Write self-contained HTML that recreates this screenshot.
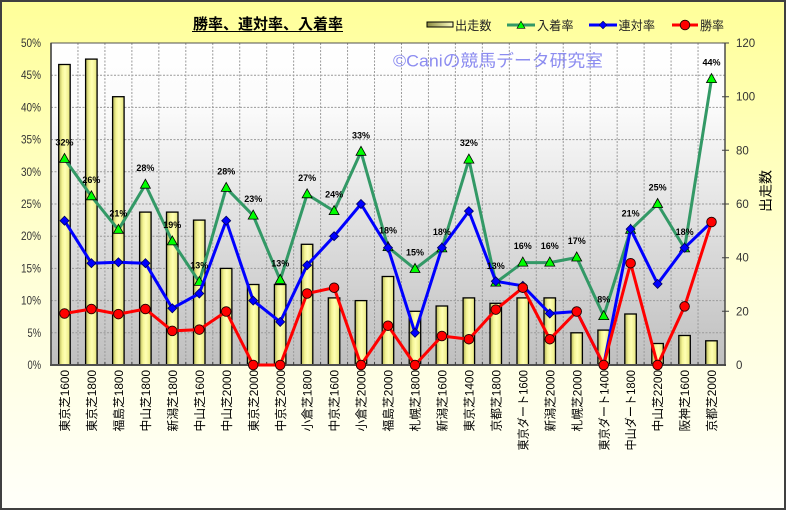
<!DOCTYPE html>
<html><head><meta charset="utf-8"><style>
html,body{margin:0;padding:0;background:#fff;}
svg{display:block;}
text{font-family:"Liberation Sans","Noto Sans CJK JP",sans-serif;}
</style></head><body>
<svg width="786" height="510" viewBox="0 0 786 510" xmlns="http://www.w3.org/2000/svg">
<defs>
<linearGradient id="bg" x1="0" y1="0" x2="0" y2="1">
<stop offset="0" stop-color="#ffff99"/><stop offset="0.55" stop-color="#ffffd8"/><stop offset="1" stop-color="#fffffa"/>
</linearGradient>
<linearGradient id="pbg" x1="0" y1="0" x2="0" y2="1">
<stop offset="0" stop-color="#ffffff"/><stop offset="0.2" stop-color="#fbfbfb"/><stop offset="1" stop-color="#bfbfbf"/>
</linearGradient>
<linearGradient id="bar" x1="0" y1="0" x2="1" y2="0">
<stop offset="0" stop-color="#b0b058"/><stop offset="0.3" stop-color="#f4f494"/><stop offset="0.55" stop-color="#ffffb4"/><stop offset="0.85" stop-color="#f0f090"/><stop offset="1" stop-color="#c8c870"/>
</linearGradient>
<linearGradient id="lbar" x1="0" y1="0" x2="1" y2="0">
<stop offset="0" stop-color="#8a8a40"/><stop offset="1" stop-color="#ffffc0"/>
</linearGradient>
<path id="tri" d="M0,-5.5 L5,3.5 L-5,3.5 Z" fill="#00ff00" stroke="#000" stroke-width="0.8"/>
<path id="dia" d="M0,-4.5 L4.5,0 L0,4.5 L-4.5,0 Z" fill="#0000ff" stroke="#000060" stroke-width="0.8"/>
<circle id="cir" r="4.8" fill="#ff0000" stroke="#200000" stroke-width="0.9"/>
</defs>

<rect x="0" y="0" width="786" height="510" fill="url(#bg)"/>
<rect x="1" y="1" width="784" height="508" fill="none" stroke="#404040" stroke-width="2"/>

<!-- title -->
<text x="268" y="29" font-size="15" font-weight="bold" text-anchor="middle" fill="#000" textLength="150" lengthAdjust="spacingAndGlyphs">勝率、連対率、入着率</text>
<line x1="192" y1="31.5" x2="343" y2="31.5" stroke="#000" stroke-width="1"/>

<!-- legend -->
<rect x="427" y="22" width="26" height="5" fill="url(#lbar)" stroke="#000" stroke-width="1"/>
<text x="455" y="30" font-size="12.5" fill="#222" textLength="36.5" lengthAdjust="spacingAndGlyphs">出走数</text>
<line x1="507" y1="25" x2="535" y2="25" stroke="#339966" stroke-width="3"/>
<use href="#tri" x="521" y="25.5" transform="translate(521 25.5) scale(0.8) translate(-521 -25.5)"/>
<text x="537" y="30" font-size="12.5" fill="#222" textLength="36.5" lengthAdjust="spacingAndGlyphs">入着率</text>
<line x1="589" y1="25" x2="617" y2="25" stroke="#0000ff" stroke-width="3"/>
<use href="#dia" x="603" y="25" transform="translate(603 25) scale(0.85) translate(-603 -25)"/>
<text x="618.5" y="30" font-size="12.5" fill="#222" textLength="36.5" lengthAdjust="spacingAndGlyphs">連対率</text>
<line x1="672" y1="25" x2="698" y2="25" stroke="#ff0000" stroke-width="3"/>
<use href="#cir" x="685" y="25"/>
<text x="700" y="30" font-size="12.5" fill="#222" textLength="24" lengthAdjust="spacingAndGlyphs">勝率</text>

<!-- plot bg -->
<rect x="51" y="43" width="674" height="322" fill="url(#pbg)"/>

<!-- gridlines -->
<g stroke="#9a9a9a" stroke-width="1" stroke-dasharray="2,1.5" fill="none">
<path d="M51,332.8H725M51,300.6H725M51,268.4H725M51,236.2H725M51,204H725M51,171.8H725M51,139.6H725M51,107.4H725M51,75.2H725"/>
<path d="M77.96,43V365M104.92,43V365M131.88,43V365M158.84,43V365M185.8,43V365M212.76,43V365M239.72,43V365M266.68,43V365M293.64,43V365M320.6,43V365M347.56,43V365M374.52,43V365M401.48,43V365M428.44,43V365M455.4,43V365M482.36,43V365M509.32,43V365M536.28,43V365M563.24,43V365M590.2,43V365M617.16,43V365M644.12,43V365M671.08,43V365M698.04,43V365"/>
</g>

<!-- watermark -->
<text x="393" y="66.5" font-size="17" fill="#8c8cf0" textLength="210" lengthAdjust="spacingAndGlyphs">©Caniの競馬データ研究室</text>

<!-- bars -->
<g fill="url(#bar)" stroke="#000" stroke-width="1.3">
<rect x="58.7" y="64.5" width="11.5" height="300.5"/>
<rect x="85.6" y="59.1" width="11.5" height="305.9"/>
<rect x="112.6" y="96.7" width="11.5" height="268.3"/>
<rect x="139.6" y="212.1" width="11.5" height="152.9"/>
<rect x="166.5" y="212.1" width="11.5" height="152.9"/>
<rect x="193.5" y="220.1" width="11.5" height="144.9"/>
<rect x="220.4" y="268.4" width="11.5" height="96.6"/>
<rect x="247.4" y="284.5" width="11.5" height="80.5"/>
<rect x="274.4" y="284.5" width="11.5" height="80.5"/>
<rect x="301.3" y="244.3" width="11.5" height="120.7"/>
<rect x="328.3" y="297.9" width="11.5" height="67.1"/>
<rect x="355.2" y="300.6" width="11.5" height="64.4"/>
<rect x="382.2" y="276.5" width="11.5" height="88.5"/>
<rect x="409.2" y="311.3" width="11.5" height="53.7"/>
<rect x="436.1" y="306.0" width="11.5" height="59.0"/>
<rect x="463.1" y="297.9" width="11.5" height="67.1"/>
<rect x="490.0" y="303.3" width="11.5" height="61.7"/>
<rect x="517.0" y="297.9" width="11.5" height="67.1"/>
<rect x="544.0" y="297.9" width="11.5" height="67.1"/>
<rect x="570.9" y="332.8" width="11.5" height="32.2"/>
<rect x="597.9" y="330.1" width="11.5" height="34.9"/>
<rect x="624.8" y="314.0" width="11.5" height="51.0"/>
<rect x="651.8" y="343.5" width="11.5" height="21.5"/>
<rect x="678.8" y="335.5" width="11.5" height="29.5"/>
<rect x="705.7" y="340.8" width="11.5" height="24.2"/>
</g>

<!-- axes / border -->
<rect x="51" y="43" width="674" height="322" fill="none" stroke="#505050" stroke-width="1"/>
<line x1="51" y1="43" x2="51" y2="366" stroke="#404040" stroke-width="1.6"/>
<line x1="50" y1="365" x2="726" y2="365" stroke="#505050" stroke-width="2"/>
<line x1="725" y1="43" x2="725" y2="366" stroke="#404040" stroke-width="1.4"/>
<g stroke="#404040" stroke-width="1">
<path d="M722,311.3H729M722,257.7H729M722,204H729M722,150.3H729M722,96.7H729M722,43H729"/>
<path d="M77.96,362V365M104.92,362V365M131.88,362V365M158.84,362V365M185.8,362V365M212.76,362V365M239.72,362V365M266.68,362V365M293.64,362V365M320.6,362V365M347.56,362V365M374.52,362V365M401.48,362V365M428.44,362V365M455.4,362V365M482.36,362V365M509.32,362V365M536.28,362V365M563.24,362V365M590.2,362V365M617.16,362V365M644.12,362V365M671.08,362V365M698.04,362V365"/>
</g>

<!-- lines -->
<polyline fill="none" stroke="#339966" stroke-width="3" stroke-linejoin="round" points="64.5,158.9 91.4,196.3 118.4,229.8 145.4,184.7 172.3,241.4 199.3,281.9 226.2,187.9 253.2,215.6 280.2,280.0 307.1,194.3 334.1,211.1 361.0,151.8 388.0,247.1 415.0,269.0 441.9,248.4 468.9,159.6 495.8,282.6 522.8,262.6 549.8,262.6 576.7,257.5 603.7,316.1 630.6,229.8 657.6,204.0 684.6,248.4 711.5,79.1"/>
<g>
<use href="#tri" x="64.5" y="158.9"/><use href="#tri" x="91.4" y="196.3"/><use href="#tri" x="118.4" y="229.8"/><use href="#tri" x="145.4" y="184.7"/><use href="#tri" x="172.3" y="241.4"/><use href="#tri" x="199.3" y="281.9"/><use href="#tri" x="226.2" y="187.9"/><use href="#tri" x="253.2" y="215.6"/><use href="#tri" x="280.2" y="280.0"/><use href="#tri" x="307.1" y="194.3"/><use href="#tri" x="334.1" y="211.1"/><use href="#tri" x="361.0" y="151.8"/><use href="#tri" x="388.0" y="247.1"/><use href="#tri" x="415.0" y="269.0"/><use href="#tri" x="441.9" y="248.4"/><use href="#tri" x="468.9" y="159.6"/><use href="#tri" x="495.8" y="282.6"/><use href="#tri" x="522.8" y="262.6"/><use href="#tri" x="549.8" y="262.6"/><use href="#tri" x="576.7" y="257.5"/><use href="#tri" x="603.7" y="316.1"/><use href="#tri" x="630.6" y="229.8"/><use href="#tri" x="657.6" y="204.0"/><use href="#tri" x="684.6" y="248.4"/><use href="#tri" x="711.5" y="79.1"/>
</g>
<polyline fill="none" stroke="#0000ff" stroke-width="3" stroke-linejoin="round" points="64.5,220.7 91.4,263.2 118.4,262.3 145.4,263.2 172.3,308.3 199.3,293.5 226.2,220.7 253.2,300.6 280.2,321.9 307.1,265.2 334.1,236.2 361.0,204.0 388.0,247.8 415.0,332.8 441.9,247.8 468.9,211.1 495.8,281.3 522.8,285.8 549.8,313.5 576.7,311.5 603.7,365 630.6,229.1 657.6,283.9 684.6,247.8 711.5,222.0"/>
<g>
<use href="#dia" x="64.5" y="220.7"/><use href="#dia" x="91.4" y="263.2"/><use href="#dia" x="118.4" y="262.3"/><use href="#dia" x="145.4" y="263.2"/><use href="#dia" x="172.3" y="308.3"/><use href="#dia" x="199.3" y="293.5"/><use href="#dia" x="226.2" y="220.7"/><use href="#dia" x="253.2" y="300.6"/><use href="#dia" x="280.2" y="321.9"/><use href="#dia" x="307.1" y="265.2"/><use href="#dia" x="334.1" y="236.2"/><use href="#dia" x="361.0" y="204.0"/><use href="#dia" x="388.0" y="247.8"/><use href="#dia" x="415.0" y="332.8"/><use href="#dia" x="441.9" y="247.8"/><use href="#dia" x="468.9" y="211.1"/><use href="#dia" x="495.8" y="281.3"/><use href="#dia" x="522.8" y="285.8"/><use href="#dia" x="549.8" y="313.5"/><use href="#dia" x="576.7" y="311.5"/><use href="#dia" x="603.7" y="365"/><use href="#dia" x="630.6" y="229.1"/><use href="#dia" x="657.6" y="283.9"/><use href="#dia" x="684.6" y="247.8"/><use href="#dia" x="711.5" y="222.0"/>
</g>
<polyline fill="none" stroke="#ff0000" stroke-width="3" stroke-linejoin="round" points="64.5,313.5 91.4,309.0 118.4,314.1 145.4,309.0 172.3,330.9 199.3,329.6 226.2,311.5 253.2,365 280.2,365 307.1,293.5 334.1,287.7 361.0,365 388.0,325.7 415.0,365 441.9,336.0 468.9,339.2 495.8,309.6 522.8,287.7 549.8,339.2 576.7,311.5 603.7,365 630.6,263.2 657.6,365 684.6,306.4 711.5,222.0"/>
<g>
<use href="#cir" x="64.5" y="313.5"/><use href="#cir" x="91.4" y="309.0"/><use href="#cir" x="118.4" y="314.1"/><use href="#cir" x="145.4" y="309.0"/><use href="#cir" x="172.3" y="330.9"/><use href="#cir" x="199.3" y="329.6"/><use href="#cir" x="226.2" y="311.5"/><use href="#cir" x="253.2" y="365"/><use href="#cir" x="280.2" y="365"/><use href="#cir" x="307.1" y="293.5"/><use href="#cir" x="334.1" y="287.7"/><use href="#cir" x="361.0" y="365"/><use href="#cir" x="388.0" y="325.7"/><use href="#cir" x="415.0" y="365"/><use href="#cir" x="441.9" y="336.0"/><use href="#cir" x="468.9" y="339.2"/><use href="#cir" x="495.8" y="309.6"/><use href="#cir" x="522.8" y="287.7"/><use href="#cir" x="549.8" y="339.2"/><use href="#cir" x="576.7" y="311.5"/><use href="#cir" x="603.7" y="365"/><use href="#cir" x="630.6" y="263.2"/><use href="#cir" x="657.6" y="365"/><use href="#cir" x="684.6" y="306.4"/><use href="#cir" x="711.5" y="222.0"/>
</g>

<!-- data labels -->
<g font-size="9" font-weight="bold" fill="#000" text-anchor="middle">
<text x="64.5" y="145.4">32%</text><text x="91.4" y="182.8">26%</text><text x="118.4" y="216.3">21%</text><text x="145.4" y="171.2">28%</text><text x="172.3" y="227.9">19%</text><text x="199.3" y="268.4">13%</text><text x="226.2" y="174.4">28%</text><text x="253.2" y="202.1">23%</text><text x="280.2" y="266.5">13%</text><text x="307.1" y="180.8">27%</text><text x="334.1" y="197.6">24%</text><text x="361.0" y="138.3">33%</text><text x="388.0" y="233.6">18%</text><text x="415.0" y="255.5">15%</text><text x="441.9" y="234.9">18%</text><text x="468.9" y="146.1">32%</text><text x="495.8" y="269.1">13%</text><text x="522.8" y="249.1">16%</text><text x="549.8" y="249.1">16%</text><text x="576.7" y="244.0">17%</text><text x="603.7" y="302.6">8%</text><text x="630.6" y="216.3">21%</text><text x="657.6" y="190.5">25%</text><text x="684.6" y="234.9">18%</text><text x="711.5" y="65.6">44%</text>
</g>

<!-- left axis labels -->
<g font-size="11.5" fill="#333" text-anchor="end">
<text x="41" y="369" textLength="13.5" lengthAdjust="spacingAndGlyphs">0%</text>
<text x="41" y="336.8" textLength="13.5" lengthAdjust="spacingAndGlyphs">5%</text>
<text x="41" y="304.6" textLength="20" lengthAdjust="spacingAndGlyphs">10%</text>
<text x="41" y="272.4" textLength="20" lengthAdjust="spacingAndGlyphs">15%</text>
<text x="41" y="240.2" textLength="20" lengthAdjust="spacingAndGlyphs">20%</text>
<text x="41" y="208" textLength="20" lengthAdjust="spacingAndGlyphs">25%</text>
<text x="41" y="175.8" textLength="20" lengthAdjust="spacingAndGlyphs">30%</text>
<text x="41" y="143.6" textLength="20" lengthAdjust="spacingAndGlyphs">35%</text>
<text x="41" y="111.4" textLength="20" lengthAdjust="spacingAndGlyphs">40%</text>
<text x="41" y="79.2" textLength="20" lengthAdjust="spacingAndGlyphs">45%</text>
<text x="41" y="47" textLength="20" lengthAdjust="spacingAndGlyphs">50%</text>
</g>

<!-- right axis labels -->
<g font-size="11.5" fill="#333">
<text x="736" y="369">0</text>
<text x="736" y="315.3">20</text>
<text x="736" y="261.7">40</text>
<text x="736" y="208">60</text>
<text x="736" y="154.3">80</text>
<text x="736" y="100.7">100</text>
<text x="736" y="47">120</text>
</g>
<text transform="translate(770.3 191) rotate(-90)" font-size="13.5" text-anchor="middle" fill="#000" textLength="42" lengthAdjust="spacingAndGlyphs">出走数</text>

<!-- x labels -->
<g font-size="12" fill="#000" text-anchor="end">
<text transform="translate(69.1 370) rotate(-90)" textLength="61.5" lengthAdjust="spacingAndGlyphs">東京芝1600</text>
<text transform="translate(96.0 370) rotate(-90)" textLength="61.5" lengthAdjust="spacingAndGlyphs">東京芝1800</text>
<text transform="translate(123.0 370) rotate(-90)" textLength="61.5" lengthAdjust="spacingAndGlyphs">福島芝1800</text>
<text transform="translate(150.0 370) rotate(-90)" textLength="61.5" lengthAdjust="spacingAndGlyphs">中山芝1800</text>
<text transform="translate(176.9 370) rotate(-90)" textLength="61.5" lengthAdjust="spacingAndGlyphs">新潟芝1800</text>
<text transform="translate(203.9 370) rotate(-90)" textLength="61.5" lengthAdjust="spacingAndGlyphs">中山芝1600</text>
<text transform="translate(230.8 370) rotate(-90)" textLength="61.5" lengthAdjust="spacingAndGlyphs">中山芝2000</text>
<text transform="translate(257.8 370) rotate(-90)" textLength="61.5" lengthAdjust="spacingAndGlyphs">東京芝2000</text>
<text transform="translate(284.8 370) rotate(-90)" textLength="61.5" lengthAdjust="spacingAndGlyphs">中京芝2000</text>
<text transform="translate(311.7 370) rotate(-90)" textLength="61.5" lengthAdjust="spacingAndGlyphs">小倉芝1800</text>
<text transform="translate(338.7 370) rotate(-90)" textLength="61.5" lengthAdjust="spacingAndGlyphs">中京芝1600</text>
<text transform="translate(365.6 370) rotate(-90)" textLength="61.5" lengthAdjust="spacingAndGlyphs">小倉芝2000</text>
<text transform="translate(392.6 370) rotate(-90)" textLength="61.5" lengthAdjust="spacingAndGlyphs">福島芝2000</text>
<text transform="translate(419.6 370) rotate(-90)" textLength="61.5" lengthAdjust="spacingAndGlyphs">札幌芝1800</text>
<text transform="translate(446.5 370) rotate(-90)" textLength="61.5" lengthAdjust="spacingAndGlyphs">新潟芝1600</text>
<text transform="translate(473.5 370) rotate(-90)" textLength="61.5" lengthAdjust="spacingAndGlyphs">東京芝1400</text>
<text transform="translate(500.4 370) rotate(-90)" textLength="61.5" lengthAdjust="spacingAndGlyphs">京都芝1800</text>
<text transform="translate(527.4 370) rotate(-90)" textLength="80.5" lengthAdjust="spacingAndGlyphs">東京ダート1600</text>
<text transform="translate(554.4 370) rotate(-90)" textLength="61.5" lengthAdjust="spacingAndGlyphs">新潟芝2000</text>
<text transform="translate(581.3 370) rotate(-90)" textLength="61.5" lengthAdjust="spacingAndGlyphs">札幌芝2000</text>
<text transform="translate(608.3 370) rotate(-90)" textLength="80.5" lengthAdjust="spacingAndGlyphs">東京ダート1400</text>
<text transform="translate(635.2 370) rotate(-90)" textLength="80.5" lengthAdjust="spacingAndGlyphs">中山ダート1800</text>
<text transform="translate(662.2 370) rotate(-90)" textLength="61.5" lengthAdjust="spacingAndGlyphs">中山芝2200</text>
<text transform="translate(689.2 370) rotate(-90)" textLength="61.5" lengthAdjust="spacingAndGlyphs">阪神芝1600</text>
<text transform="translate(716.1 370) rotate(-90)" textLength="61.5" lengthAdjust="spacingAndGlyphs">京都芝2000</text>
</g>
</svg>
</body></html>
